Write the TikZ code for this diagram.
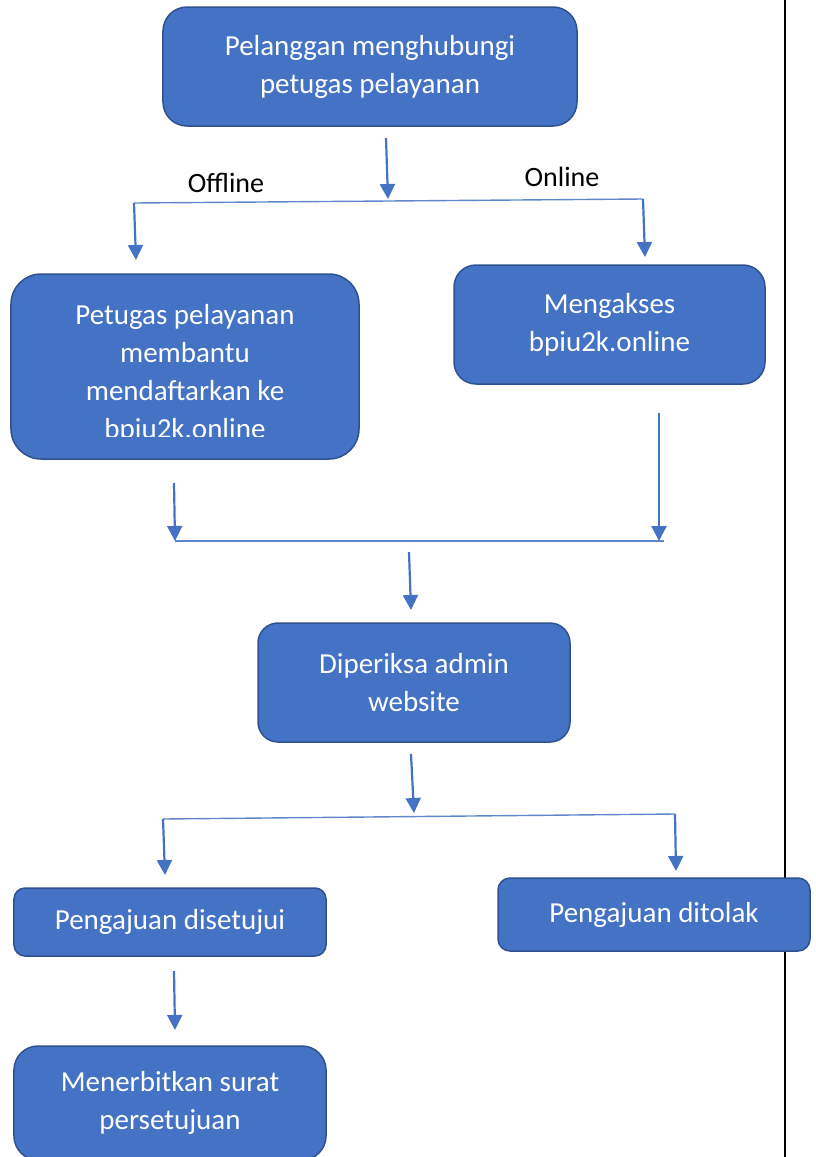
\documentclass[tikz,border=0pt]{standalone}
\usepackage{fontspec}
\setmainfont{Carlito}
\usetikzlibrary{arrows.meta}
\definecolor{boxblue}{HTML}{4472C4}
\definecolor{boxedge}{HTML}{2F528F}
\newcommand{\boxfont}{\fontsize{29bp}{38bp}\selectfont}
\tikzset{
  box/.style={draw=boxedge, fill=boxblue, line width=1.5bp, text=white, align=center, font=\boxfont, inner sep=0pt, rounded corners=#1},
  box/.default=20bp,
  boxtext/.style={text=white, align=center, font=\boxfont, inner sep=0pt},
  flow/.style={draw=boxblue, line width=2.2bp, -{Triangle[length=15bp,width=15bp]}},
  branch/.style={draw=boxblue!85, line width=1.4bp},
  lbl/.style={font=\fontsize{28bp}{34bp}\selectfont, text=black, inner sep=0pt},
}
\begin{document}
\begin{tikzpicture}[x=1bp,y=-1bp]
\useasboundingbox (0,0) rectangle (816,1157);
% margin line on the right
\draw[line width=2.4bp] (785,0) -- (785,1157);

% boxes
\node (contact) at (370,66.5) [box=24bp, minimum width=414bp, minimum height=119bp] {Pelanggan menghubungi\\petugas pelayanan};
\node (register) at (185,366.5) [box=30bp, minimum width=348bp, minimum height=185bp] {};
\begin{scope}
\clip (register.north west) rectangle ([yshift=23bp]register.south east);
\node (registertext) at (185,374) [boxtext] {Petugas pelayanan\\membantu\\mendaftarkan ke\\bpiu2k.online};
\end{scope}
\node (access) at (609.5,324.5) [box=22bp, minimum width=311bp, minimum height=119bp] {Mengakses\\bpiu2k.online};
\node (check) at (414,682.5) [box=20bp, minimum width=312bp, minimum height=119bp] {Diperiksa admin\\website};
\node (approved) at (170,922) [box=11bp, minimum width=312bp, minimum height=68bp] {Pengajuan disetujui};
\node (rejected) at (654,914.5) [box=12bp, minimum width=312bp, minimum height=73bp] {Pengajuan ditolak};
\node (issue) at (170,1103) [box=24bp, minimum width=312bp, minimum height=114bp] {Menerbitkan surat\\persetujuan};

% branch labels
\node (offline) at (226,183) [lbl] {Offline};
\node (online) at (562,177) [lbl] {Online};

% first split
\coordinate (s1in) at (386,138);
\coordinate (s1mid) at (388,199);
\coordinate (s1left) at (134,203);
\coordinate (s1right) at (643,199);
\coordinate (s1lefttip) at (136,260);
\coordinate (s1righttip) at (645,257);
\draw[flow] (s1in) -- (s1mid);
\draw[branch] (s1left) -- (s1right);
\draw[flow] (s1left) -- (s1lefttip);
\draw[flow] (s1right) -- (s1righttip);

% merge
\coordinate (m1left) at (174,483);
\coordinate (m1right) at (659,413);
\coordinate (m1a) at (175,541);
\coordinate (m1b) at (664,541);
\coordinate (m1c) at (659,541);
\coordinate (m1out) at (409,552);
\coordinate (m1tip) at (411,610);
\draw[branch] (m1a) -- (m1b);
\draw[flow] (m1left) -- (m1a);
\draw[flow] (m1right) -- (m1c);
\draw[flow] (m1out) -- (m1tip);

% second split
\coordinate (s2in) at (411,754);
\coordinate (s2mid) at (414,813);
\coordinate (s2left) at (163,819);
\coordinate (s2right) at (675,814);
\coordinate (s2lefttip) at (165,875);
\coordinate (s2righttip) at (676,871);
\draw[flow] (s2in) -- (s2mid);
\draw[branch] (s2left) -- (s2right);
\draw[flow] (s2left) -- (s2lefttip);
\draw[flow] (s2right) -- (s2righttip);

% last step
\coordinate (lastin) at (174,971);
\coordinate (lasttip) at (175,1030);
\draw[flow] (lastin) -- (lasttip);
\end{tikzpicture}
\end{document}
